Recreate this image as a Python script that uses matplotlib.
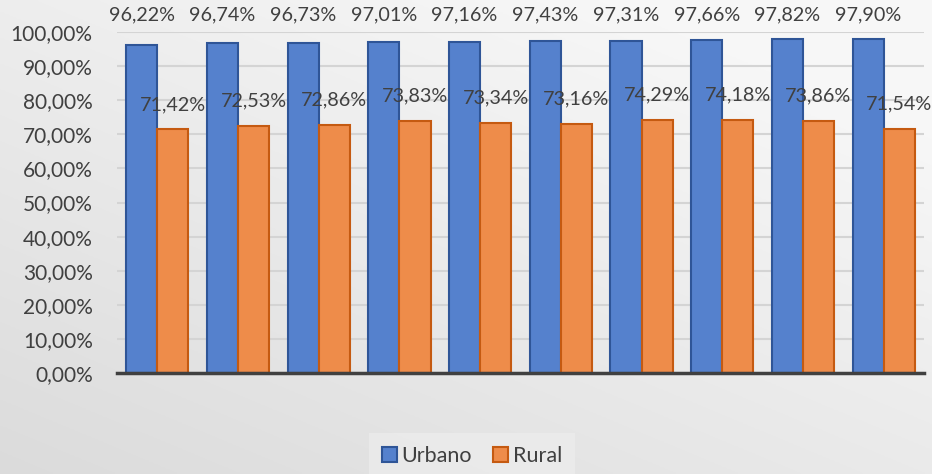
import matplotlib
matplotlib.use("Agg")
import matplotlib.pyplot as plt
import numpy as np
from matplotlib.patches import Patch
from matplotlib.ticker import FuncFormatter, MultipleLocator

plt.rcParams['font.family'] = ['Lato', 'DejaVu Sans']

urbano = [96.22, 96.74, 96.73, 97.01, 97.16, 97.43, 97.31, 97.66, 97.82, 97.90]
rural = [71.42, 72.53, 72.86, 73.83, 73.34, 73.16, 74.29, 74.18, 73.86, 71.54]
series_names = ["Urbano", "Rural"]

W, H = 932, 474
fig = plt.figure(figsize=(W / 100, H / 100), dpi=100)

# background gradient (lighter top-right, darker bottom-left)
bg = fig.add_axes([0, 0, 1, 1], zorder=-10)
yy, xx = np.mgrid[0:1:200j, 0:1:400j]
g = 0.84 + 0.13 * np.clip(0.55 * (1 - yy) + 0.45 * xx + 0.15, 0, 1)
g = np.clip(g, 0, 0.975)
bg.imshow(np.dstack([g, g, g]), extent=[0, 1, 0, 1], aspect='auto', origin='upper')
bg.set_axis_off()

ax = fig.add_axes([117 / W, 1 - 373 / H, (924 - 117) / W, (373 - 32) / H])
ax.patch.set_alpha(0)

txt = '#404040'
x = np.arange(len(urbano))
w = 0.385
ax.bar(x - w / 2, urbano, width=w, color='#5581CD', edgecolor='#2F5597', linewidth=1.5, zorder=3)
ax.bar(x + w / 2, rural, width=w, color='#EE8C4A', edgecolor='#C55A11', linewidth=1.5, zorder=3)

fmt = lambda v: f"{v:.2f}%".replace('.', ',')
for xi, v in zip(x, urbano):
    ax.text(xi - w / 2, 1.05 * 100, fmt(v), ha='center', va='center', fontsize=14.2, color=txt,
            clip_on=False)
for xi, v in zip(x, rural):
    ax.annotate(fmt(v), (xi + w / 2, v), xytext=(0, 18), textcoords='offset points',
                ha='center', va='center', fontsize=14.2, color=txt, zorder=5)

ax.set_xlim(-0.5, len(urbano) - 0.5)
ax.set_ylim(0, 100)
ax.yaxis.set_major_locator(MultipleLocator(10))
ax.yaxis.set_major_formatter(FuncFormatter(lambda v, p: fmt(v)))
ax.tick_params(axis='y', length=0, labelsize=15, labelcolor=txt, pad=17.5)
ax.set_xticks([])
ax.grid(axis='y', color='#d4d4d4', linewidth=1.5, zorder=0)
for s in ['top', 'right', 'left']:
    ax.spines[s].set_visible(False)
ax.spines['bottom'].set_color('#404040')
ax.spines['bottom'].set_linewidth(2.5)
ax.spines['bottom'].set_zorder(4)

handles = [Patch(facecolor='#5581CD', edgecolor='#2F5597', linewidth=1.5),
           Patch(facecolor='#EE8C4A', edgecolor='#C55A11', linewidth=1.5)]
leg = fig.legend(handles, series_names, loc='center', bbox_to_anchor=(472 / W, 1 - 456 / H),
                 ncol=2, frameon=True, fontsize=15.5, handlelength=0.7, handleheight=0.7,
                 handletextpad=0.2, columnspacing=1.0, borderpad=0.6, fancybox=False)
leg.get_frame().set_facecolor('#ececec')
leg.get_frame().set_edgecolor('none')
for t in leg.get_texts():
    t.set_color(txt)

fig.savefig('out.png', dpi=100)
